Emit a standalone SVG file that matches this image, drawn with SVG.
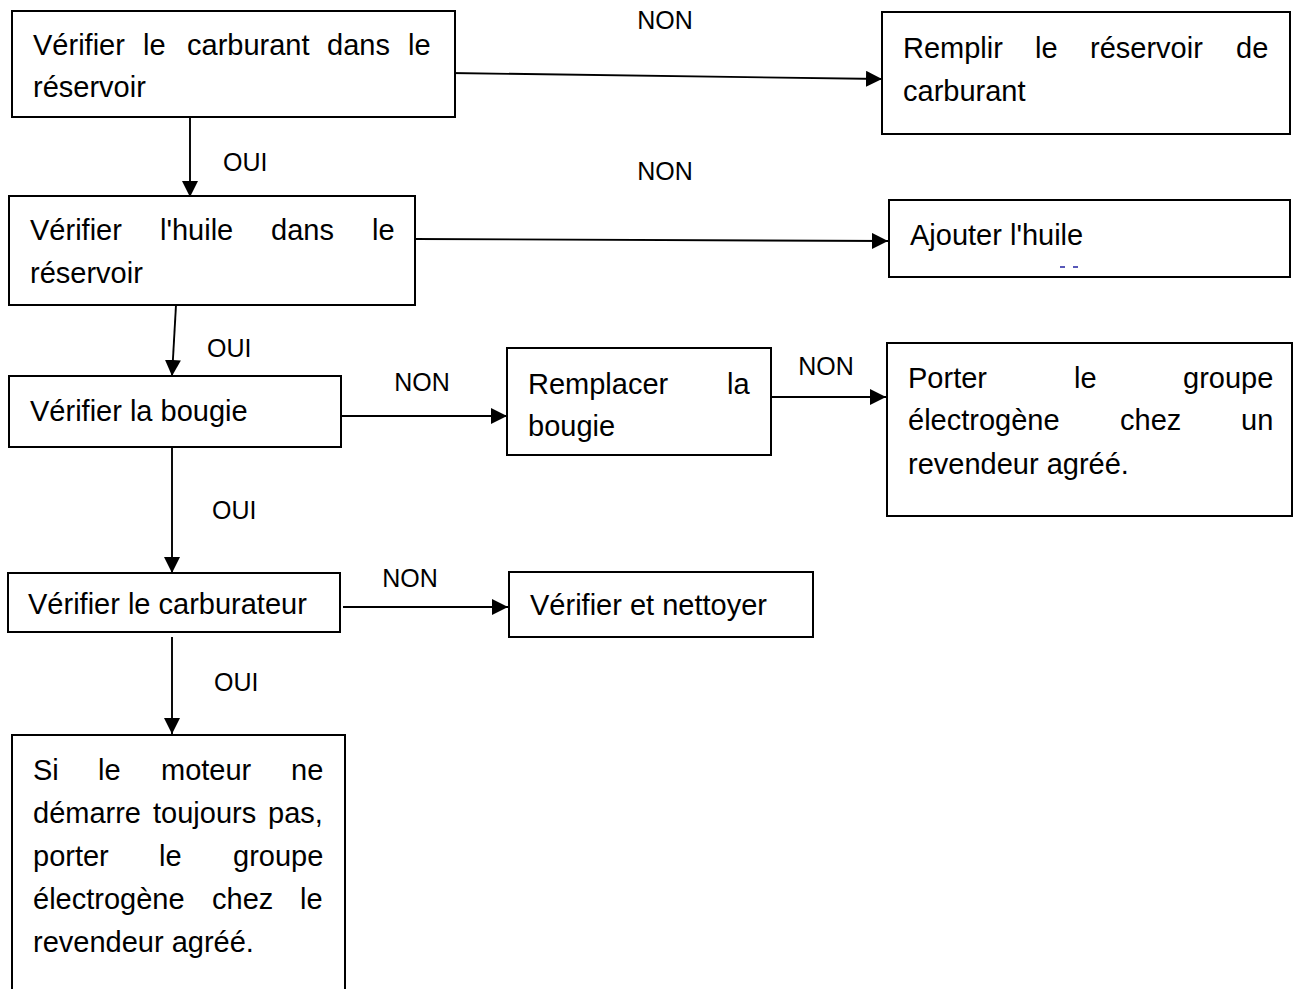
<svg xmlns="http://www.w3.org/2000/svg" width="1293" height="989" viewBox="0 0 1293 989">
<style>
.box{fill:#fff;stroke:#000;stroke-width:2}
.t{font-family:"Liberation Sans",Arial,sans-serif;font-size:29px;fill:#000}
.l{font-family:"Liberation Sans",Arial,sans-serif;font-size:25px;fill:#000}
.c{stroke:#000;stroke-width:1.9;fill:none;marker-end:url(#ah)}
</style>
<defs>
<marker id="ah" markerUnits="userSpaceOnUse" markerWidth="17" markerHeight="17" refX="16" refY="8" orient="auto">
<path d="M0,0 L16,8 L0,16 Z" fill="#000"/>
</marker>
</defs>
<rect width="1293" height="989" fill="#fff"/>
<g id="connectors">
<line class="c" x1="450" y1="73" x2="882" y2="79"/>
<line class="c" x1="190" y1="117" x2="190" y2="197"/>
<line class="c" x1="415" y1="239" x2="888" y2="241"/>
<line class="c" x1="176" y1="305" x2="172" y2="376"/>
<line class="c" x1="337" y1="416" x2="507" y2="416"/>
<line class="c" x1="765" y1="397" x2="886" y2="397"/>
<line class="c" x1="172" y1="443" x2="172" y2="573"/>
<line class="c" x1="343" y1="607" x2="508" y2="607"/>
<line class="c" x1="172" y1="637" x2="172" y2="734"/>
<text class="l" x="665" y="29" text-anchor="middle">NON</text>
<text class="l" x="223" y="171">OUI</text>
<text class="l" x="665" y="180" text-anchor="middle">NON</text>
<text class="l" x="207" y="357">OUI</text>
<text class="l" x="422" y="391" text-anchor="middle">NON</text>
<text class="l" x="826" y="375" text-anchor="middle">NON</text>
<text class="l" x="212" y="519">OUI</text>
<text class="l" x="410" y="587" text-anchor="middle">NON</text>
<text class="l" x="214" y="691">OUI</text>
</g>
<g id="n1">
<rect class="box" x="12" y="11" width="443" height="106"/>
<text class="t" y="55"><tspan x="33">Vérifier</tspan><tspan x="143">le</tspan><tspan x="187">carburant</tspan><tspan x="327">dans</tspan><tspan x="408">le</tspan></text>
<text class="t" x="33" y="97">réservoir</text>
</g>
<g id="n2">
<rect class="box" x="882" y="12" width="408" height="122"/>
<text class="t" y="58"><tspan x="903">Remplir</tspan><tspan x="1035">le</tspan><tspan x="1090">réservoir</tspan><tspan x="1236">de</tspan></text>
<text class="t" x="903" y="101">carburant</text>
</g>
<g id="n3">
<rect class="box" x="9" y="196" width="406" height="109"/>
<text class="t" y="240"><tspan x="30">Vérifier</tspan><tspan x="160">l'huile</tspan><tspan x="271">dans</tspan><tspan x="372">le</tspan></text>
<text class="t" x="30" y="283">réservoir</text>
</g>
<g id="n4">
<rect class="box" x="889" y="200" width="401" height="77"/>
<text class="t" x="910" y="245">Ajouter l'huile</text>
<line x1="1060" y1="267" x2="1065" y2="267" stroke="#2020a0" stroke-width="1.5"/>
<line x1="1073" y1="267" x2="1078" y2="267" stroke="#2020a0" stroke-width="1.5"/>
</g>
<g id="n5">
<rect class="box" x="9" y="376" width="332" height="71"/>
<text class="t" x="30" y="421">Vérifier la bougie</text>
</g>
<g id="n6">
<rect class="box" x="507" y="348" width="264" height="107"/>
<text class="t" y="394"><tspan x="528">Remplacer</tspan><tspan x="727">la</tspan></text>
<text class="t" x="528" y="436">bougie</text>
</g>
<g id="n7">
<rect class="box" x="887" y="343" width="405" height="173"/>
<text class="t" y="388"><tspan x="908">Porter</tspan><tspan x="1074">le</tspan><tspan x="1183">groupe</tspan></text>
<text class="t" y="430"><tspan x="908">électrogène</tspan><tspan x="1120">chez</tspan><tspan x="1241">un</tspan></text>
<text class="t" x="908" y="474">revendeur agréé.</text>
</g>
<g id="n8">
<rect class="box" x="8" y="573" width="332" height="59"/>
<text class="t" x="28" y="614">Vérifier le carburateur</text>
</g>
<g id="n9">
<rect class="box" x="509" y="572" width="304" height="65"/>
<text class="t" x="530" y="615">Vérifier et nettoyer</text>
</g>
<g id="n10">
<rect class="box" x="12" y="735" width="333" height="270"/>
<text class="t" y="780"><tspan x="33">Si</tspan><tspan x="98">le</tspan><tspan x="161">moteur</tspan><tspan x="291">ne</tspan></text>
<text class="t" y="823"><tspan x="33">démarre</tspan><tspan x="153">toujours</tspan><tspan x="268">pas,</tspan></text>
<text class="t" y="866"><tspan x="33">porter</tspan><tspan x="159">le</tspan><tspan x="233">groupe</tspan></text>
<text class="t" y="909"><tspan x="33">électrogène</tspan><tspan x="212">chez</tspan><tspan x="300">le</tspan></text>
<text class="t" x="33" y="952">revendeur agréé.</text>
</g>
</svg>
